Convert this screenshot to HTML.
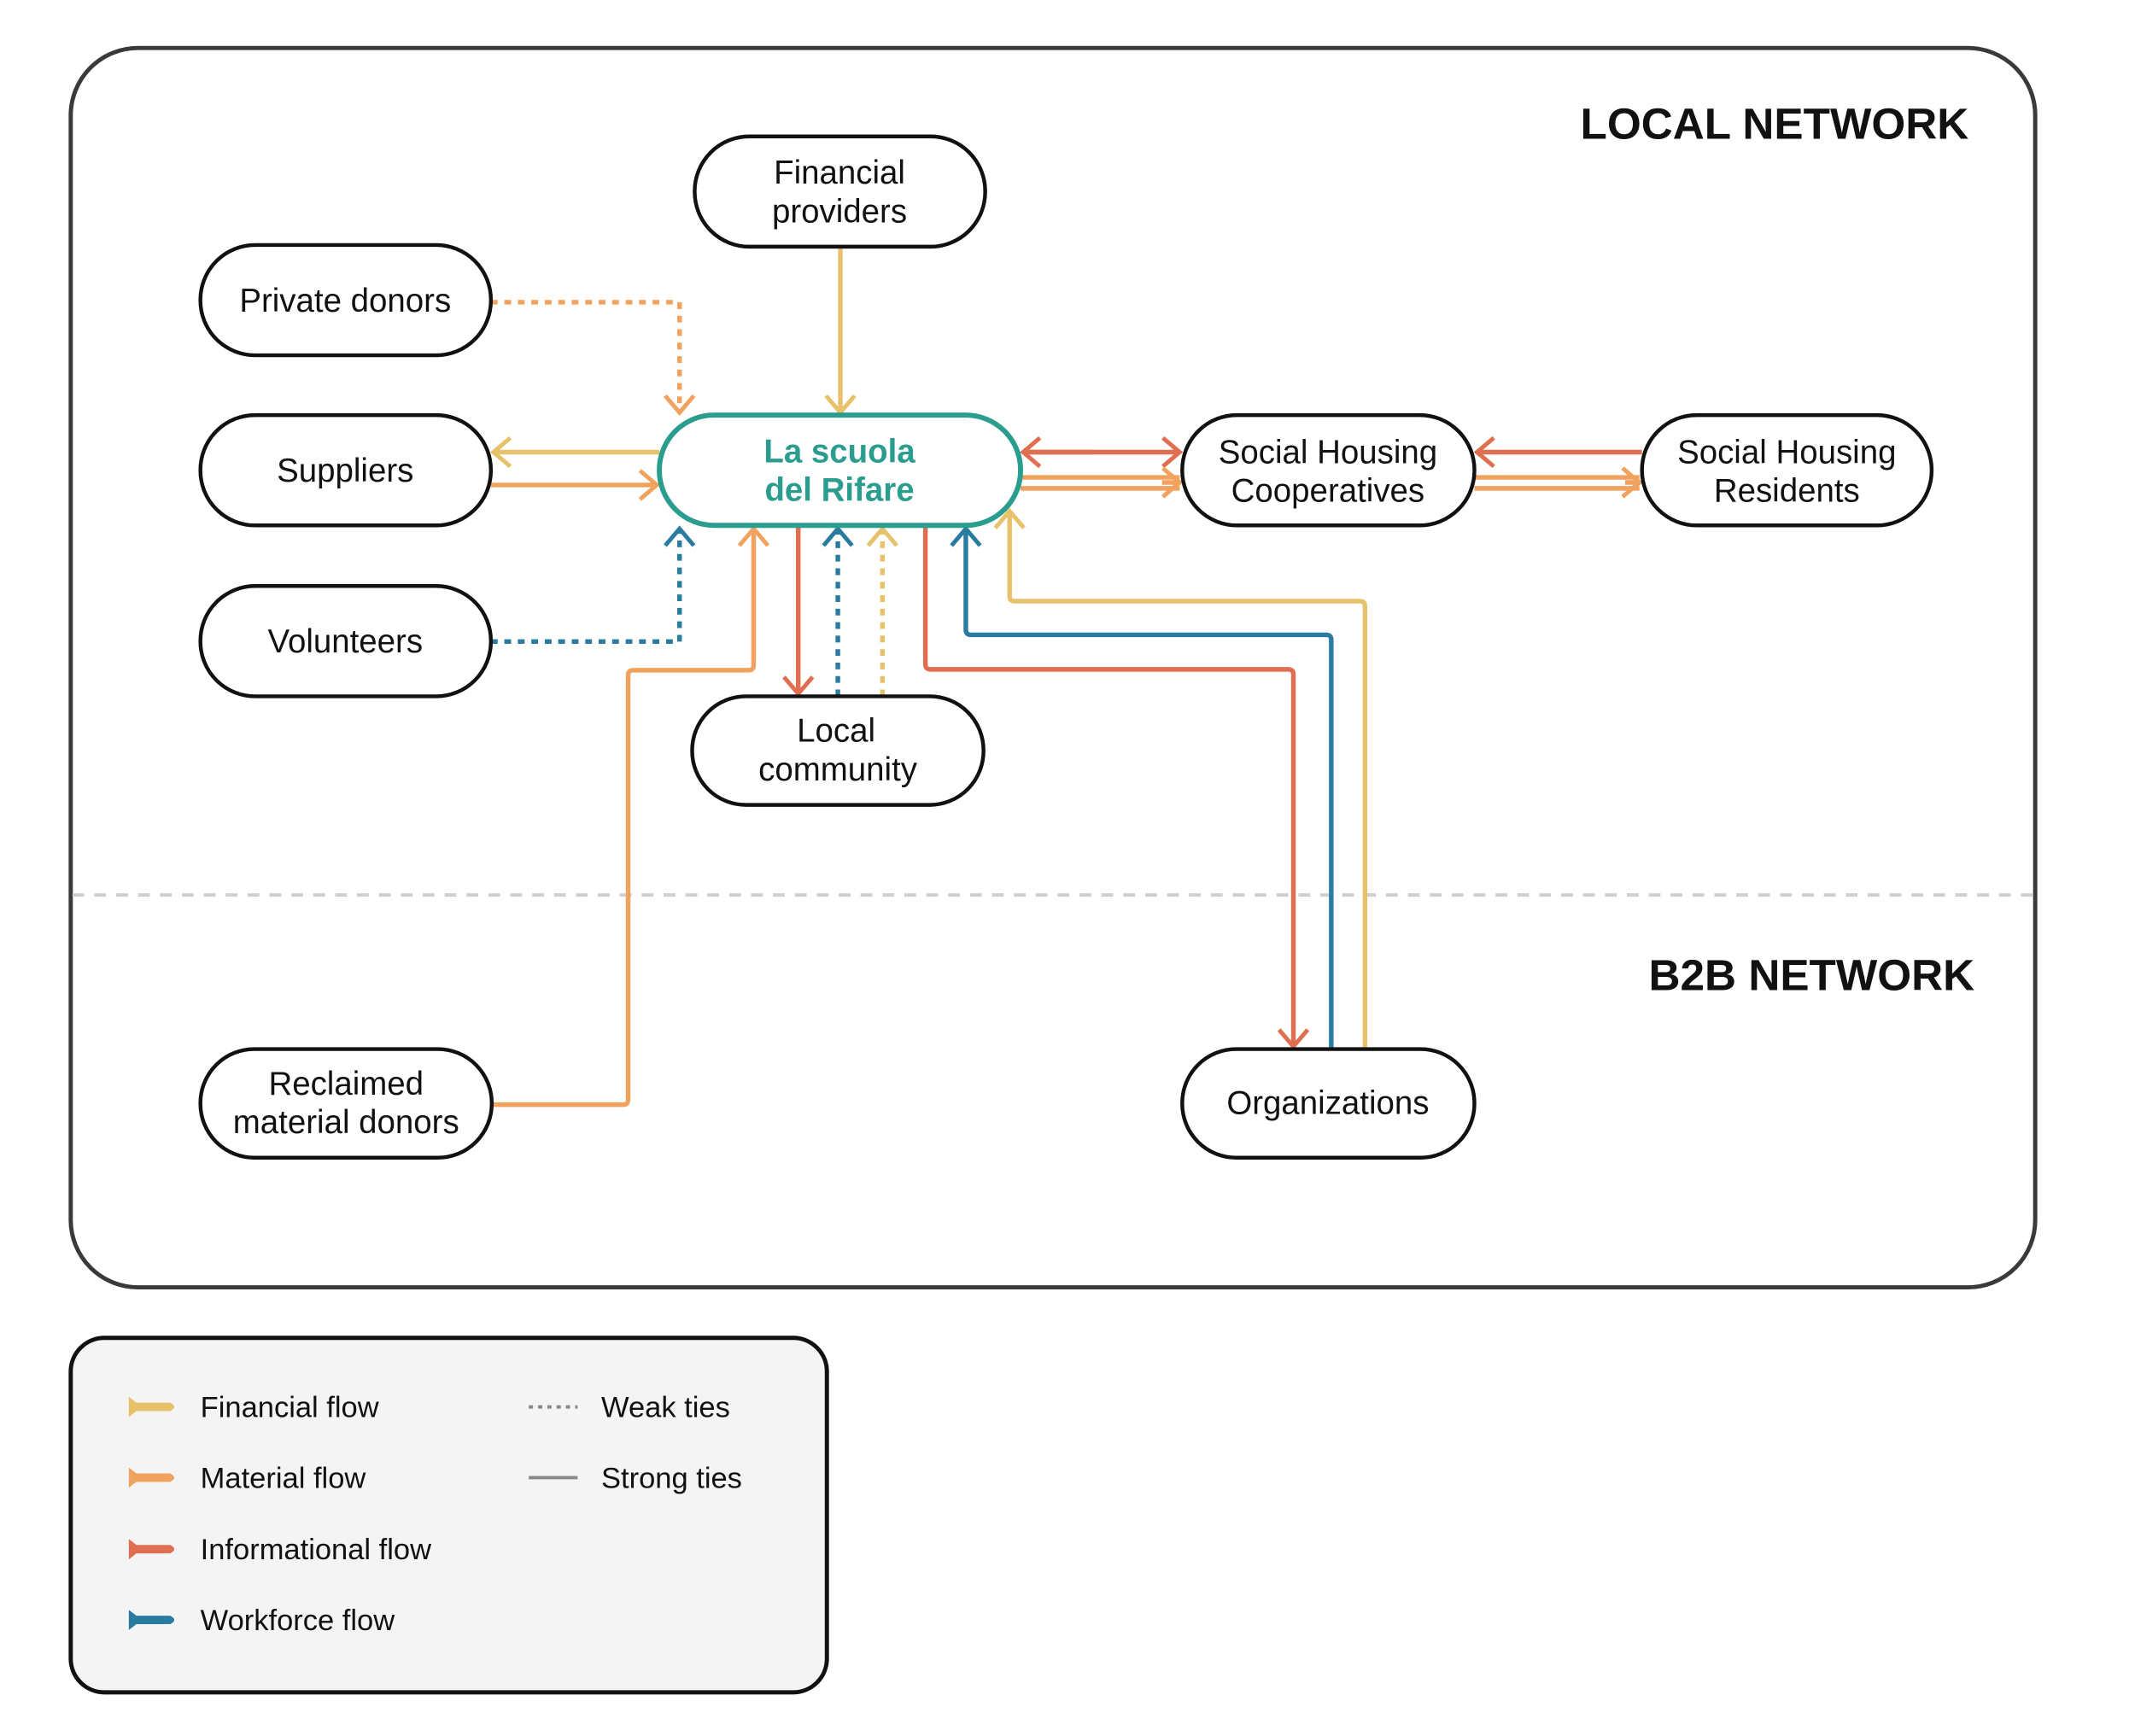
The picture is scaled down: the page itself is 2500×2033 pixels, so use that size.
<!DOCTYPE html>
<html><head><meta charset="utf-8"><style>
html,body{margin:0;padding:0;background:#fff;}
svg{display:block;}
text{font-family:"Liberation Sans",sans-serif;}
</style></head><body>
<svg width="2500" height="2033" viewBox="0 0 2500 2033" xmlns="http://www.w3.org/2000/svg">
<defs>
<marker id="aY" markerUnits="userSpaceOnUse" markerWidth="50" markerHeight="50" viewBox="-30 -25 50 50" refX="0" refY="0" orient="auto" overflow="visible"><path d="M-20 -17 L0 0 L-20 17" fill="none" stroke="#E8C26A" stroke-width="5"/></marker>
<marker id="aO" markerUnits="userSpaceOnUse" markerWidth="50" markerHeight="50" viewBox="-30 -25 50 50" refX="0" refY="0" orient="auto" overflow="visible"><path d="M-20 -17 L0 0 L-20 17" fill="none" stroke="#F0A25E" stroke-width="5"/></marker>
<marker id="aR" markerUnits="userSpaceOnUse" markerWidth="50" markerHeight="50" viewBox="-30 -25 50 50" refX="0" refY="0" orient="auto" overflow="visible"><path d="M-20 -17 L0 0 L-20 17" fill="none" stroke="#E06E50" stroke-width="5"/></marker>
<marker id="aB" markerUnits="userSpaceOnUse" markerWidth="50" markerHeight="50" viewBox="-30 -25 50 50" refX="0" refY="0" orient="auto" overflow="visible"><path d="M-20 -17 L0 0 L-20 17" fill="none" stroke="#2A7BA0" stroke-width="5"/></marker>
</defs>
<g transform="scale(0.986)">
<rect x="84" y="57" width="2333" height="1472" rx="80" fill="#fff" stroke="#3a3a3a" stroke-width="5"/>
<line x1="86" y1="1063" x2="2415" y2="1063" stroke="#cfcfcf" stroke-width="4" stroke-dasharray="14 12"/>
<text x="2338" y="165" text-anchor="end" font-size="52" font-weight="bold" fill="#111">LOCAL NETWORK</text>
<text x="2345" y="1176" text-anchor="end" font-size="52" font-weight="bold" fill="#111">B2B NETWORK</text>

<g fill="none" stroke-width="5.5" stroke-linejoin="round">
<path d="M583 359 H807 V490" stroke="#F0A25E" stroke-dasharray="8 8" marker-end="url(#aO)"/>
<path d="M998 293 V490" stroke="#E8C26A" marker-end="url(#aY)"/>
<path d="M783 537 H586" stroke="#E8C26A" marker-end="url(#aY)"/>
<path d="M583 576 H780" stroke="#F0A25E" marker-end="url(#aO)"/>
<path d="M583 762 H807 V628" stroke="#2A7BA0" stroke-dasharray="8 8" marker-end="url(#aB)"/>
<path d="M584 1312 H740 Q746 1312 746 1306 V802 Q746 796 752 796 H889 Q895 796 895 790 V628" stroke="#F0A25E" marker-end="url(#aO)"/>
<path d="M948 625 V824" stroke="#E06E50" marker-end="url(#aR)"/>
<path d="M995 827 V628" stroke="#2A7BA0" stroke-dasharray="8 8" marker-end="url(#aB)"/>
<path d="M1048 827 V628" stroke="#E8C26A" stroke-dasharray="8 8" marker-end="url(#aY)"/>
<path d="M1099 620 V789 Q1099 795 1105 795 H1530 Q1536 795 1536 801 V1243" stroke="#E06E50" marker-end="url(#aR)"/>
<path d="M1581 1246 V760 Q1581 754 1575 754 H1153 Q1147 754 1147 748 V628" stroke="#2A7BA0" marker-end="url(#aB)"/>
<path d="M1621 1246 V720 Q1621 714 1615 714 H1205 Q1199 714 1199 708 V607" stroke="#E8C26A" marker-end="url(#aY)"/>
<path d="M1300 537 H1215" stroke="#E06E50" marker-end="url(#aR)"/>
<path d="M1215 537 H1401" stroke="#E06E50" marker-end="url(#aR)"/>
<path d="M1212 567 H1401" stroke="#F0A25E"/>
<path d="M1212 580 H1401" stroke="#F0A25E"/>
<path d="M1380 573 H1401" stroke="#F0A25E" marker-end="url(#aO)"/>
<path d="M1950 537 H1754" stroke="#E06E50" marker-end="url(#aR)"/>
<path d="M1751 567 H1947" stroke="#F0A25E"/>
<path d="M1751 580 H1947" stroke="#F0A25E"/>
<path d="M1930 573 H1947" stroke="#F0A25E" marker-end="url(#aO)"/>
</g>

<g fill="#fff" stroke="#111" stroke-width="4.5">
<rect x="825" y="162" width="345" height="131" rx="65"/>
<rect x="238" y="291" width="345" height="131" rx="65"/>
<rect x="238" y="493" width="345" height="131" rx="65"/>
<rect x="238" y="696" width="345" height="131" rx="65"/>
<rect x="1404" y="493" width="347" height="131" rx="65"/>
<rect x="1950" y="493" width="344" height="131" rx="65"/>
<rect x="822" y="827" width="346" height="129" rx="64"/>
<rect x="238" y="1246" width="346" height="129" rx="64"/>
<rect x="1404" y="1246" width="347" height="129" rx="64"/>
</g>
<rect x="783" y="493" width="429" height="131" rx="65" fill="#fff" stroke="#2A9D8F" stroke-width="6"/>

<g font-size="39" fill="#111" text-anchor="middle">
<text x="997" y="218">Financial</text><text x="997" y="264">providers</text>
<text x="410" y="370">Private donors</text>
<text x="410" y="572">Suppliers</text>
<text x="410" y="775">Volunteers</text>
<text x="1577" y="550">Social Housing</text><text x="1577" y="596">Cooperatives</text>
<text x="2122" y="550">Social Housing</text><text x="2122" y="596">Residents</text>
<text x="993" y="881">Local</text><text x="995" y="927">community</text>
<text x="411" y="1300">Reclaimed</text><text x="411" y="1346">material donors</text>
<text x="1577" y="1323">Organizations</text>
<text x="997" y="549" fill="#2A9D8F" font-weight="bold">La scuola</text><text x="997" y="595" fill="#2A9D8F" font-weight="bold">del Rifare</text>
</g>

<rect x="84" y="1589" width="898" height="421" rx="40" fill="#f4f4f4" stroke="#111" stroke-width="5"/>
<g>
<path d="M153 1659 L162 1666 H202 Q212 1671 202 1676 H162 L153 1683 Z" fill="#E8C26A"/>
<path d="M153 1743 L162 1750 H202 Q212 1755 202 1760 H162 L153 1767 Z" fill="#F0A25E"/>
<path d="M153 1828 L162 1835 H202 Q212 1840 202 1845 H162 L153 1852 Z" fill="#E06E50"/>
<path d="M153 1912 L162 1919 H202 Q212 1924 202 1929 H162 L153 1936 Z" fill="#2A7BA0"/>
<line x1="628" y1="1671" x2="686" y2="1671" stroke="#888" stroke-width="4" stroke-dasharray="5 6"/>
<line x1="628" y1="1755" x2="686" y2="1755" stroke="#888" stroke-width="4"/>
</g>
<g font-size="35" fill="#111">
<text x="238" y="1683">Financial flow</text>
<text x="238" y="1767">Material flow</text>
<text x="238" y="1852">Informational flow</text>
<text x="238" y="1936">Workforce flow</text>
<text x="714" y="1683">Weak ties</text>
<text x="714" y="1767">Strong ties</text>
</g>
</g>
</svg>
</body></html>
